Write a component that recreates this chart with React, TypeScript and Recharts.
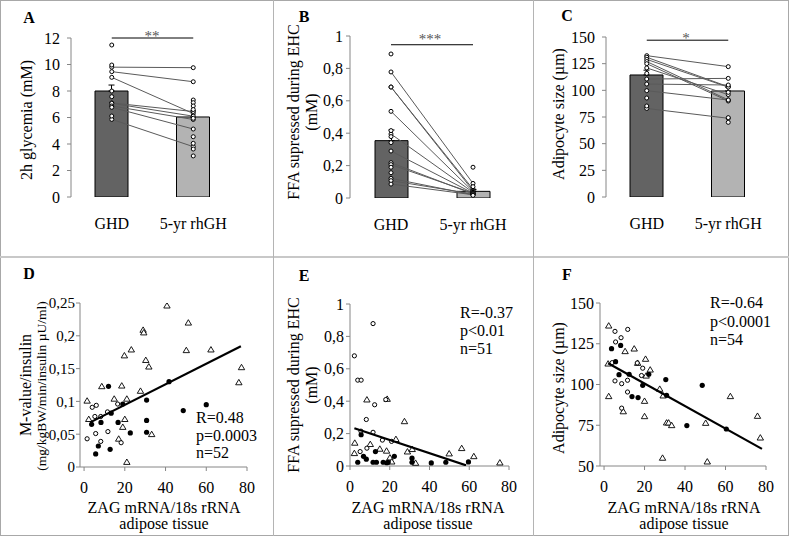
import React from "react";
import { Bar, Cell, ComposedChart, ErrorBar, Line, ReferenceLine, Scatter, ScatterChart, XAxis, YAxis } from "recharts";

const FONT = "'Liberation Serif', 'Times New Roman', serif";
const AXIS = "#868686";

// shared categories for the top row
const groups = ["GHD", "5-yr rhGH"];
const barFills = ["#636363", "#b3b3b3"];

// A: 2h glycemia (mM)
const aMeans = [8.0, 6.04];
const aErr = [0.45, 0.45];
const aPairs: [number, number][] = [[9.8, 9.76], [9.46, 8.7], [9.03, 6.3], [7.1, 6.45], [7.07, 6.1], [6.87, 5.85], [6.77, 5.13], [5.86, 3.8]];
const aGhdOnly = [11.47, 9.96, 8.0, 7.57, 6.11];
const aRhOnly = [7.32, 7.12, 6.87, 6.6, 5.94, 4.55, 4.05, 3.62, 3.1];

// B: FFA supressed during EHC (mM)
const bMeans = [0.354, 0.041];
const bErr = [0.066, 0.012];
const bPairs: [number, number][] = [[0.778, 0.09], [0.685, 0.055], [0.685, 0.045], [0.535, 0.04], [0.395, 0.035], [0.29, 0.03], [0.218, 0.025], [0.206, 0.03], [0.121, 0.02], [0.107, 0.025], [0.086, 0.02]];
const bGhdOnly = [0.889, 0.416, 0.379, 0.342, 0.19, 0.156];
const bRhOnly = [0.19, 0.07, 0.016];

// C: adipocyte size (µm)
const cMeans = [114.4, 99.4];
const cErr = [4.5, 3.6];
const cPairs: [number, number][] = [[132.5, 122.2], [131, 103.4], [129, 103], [127, 91], [125, 90], [121, 96], [110.6, 111.2], [105.9, 105], [99.7, 90.9], [83, 73.8]];
const cGhdOnly = [115.9, 92.8, 85.3];
const cRhOnly = [98.1, 74.4, 70];

// D: M-value/insulin vs ZAG mRNA
const dTriangles: [number, number][] = [[40.7, 0.246], [51.2, 0.22], [29, 0.209], [29.3, 0.205], [23.2, 0.179], [19.8, 0.17], [50.2, 0.178], [62.3, 0.179], [30.3, 0.163], [31.8, 0.153], [77.3, 0.152], [76, 0.129], [8.7, 0.123], [18.5, 0.124], [27.7, 0.116], [14.8, 0.104], [21, 0.104], [1.5, 0.101], [2.3, 0.073], [20, 0.073], [19, 0.061], [17, 0.043], [33.2, 0.05], [21, 0.0076]];
const dOpen: [number, number][] = [[4, 0.091], [6, 0.094], [5.3, 0.077], [8.2, 0.077], [11.5, 0.084], [16.5, 0.096], [1.5, 0.043], [5.7, 0.051], [11.7, 0.054], [8.2, 0.039], [18.2, 0.037]];
const dFilled: [number, number][] = [[12, 0.123], [41.7, 0.13], [19, 0.096], [13.3, 0.082], [30.7, 0.102], [60, 0.095], [48.7, 0.086], [3.7, 0.065], [8.3, 0.068], [16.7, 0.068], [30.7, 0.071], [30.7, 0.053], [22.7, 0.052], [7, 0.032], [12.8, 0.027], [5.7, 0.02]];
const dTrend: [number, number][] = [[3, 0.068], [77, 0.184]];

// E: FFA supressed vs ZAG mRNA
const eTriangles: [number, number][] = [[8.5, 0.41], [18.7, 0.414], [27.4, 0.276], [2.4, 0.143], [2.2, 0.079], [10.2, 0.135], [15, 0.106], [18.4, 0.094], [23.1, 0.166], [20.1, 0.052], [21, 0.027], [28.9, 0.089], [31.3, 0.104], [33, 0.019], [49.9, 0.077], [56.2, 0.11], [62.3, 0.06], [75.4, 0.021]];
const eOpen: [number, number][] = [[2.2, 0.68], [11.6, 0.879], [3.9, 0.53], [5.6, 0.53], [12.4, 0.378], [8.2, 0.287], [11.6, 0.208], [5.1, 0.089], [8.5, 0.11], [16.3, 0.16], [18, 0.41], [20.9, 0.152], [5.5, 0.215]];
const eFilled: [number, number][] = [[5.6, 0.193], [3.9, 0.023], [6.8, 0.06], [8.2, 0.042], [12.8, 0.089], [11.6, 0.023], [13.3, 0.023], [16.7, 0.023], [19.2, 0.023], [22.3, 0.06], [31.2, 0.048], [31.2, 0.023], [40.9, 0.019], [48.2, 0.023], [59.6, 0.025], [18.5, 0.02]];
const eTrend: [number, number][] = [[2.2, 0.233], [58.4, 0.004]];

// F: adipocyte size vs ZAG mRNA
const fTriangles: [number, number][] = [[2.3, 136.1], [2, 112.8], [2.3, 92.8], [10.4, 120.4], [14.9, 122], [20.5, 115.7], [16.6, 113.2], [22.8, 109.1], [20.8, 105.4], [27.5, 97.3], [29.2, 93.2], [20, 89.9], [9.5, 83.5], [20, 80.5], [30.9, 76.6], [31.9, 76.6], [33.4, 75], [50.2, 76.4], [62.4, 92.8], [75.8, 80.7], [77.2, 67.4], [28.9, 55], [51, 52.7]];
const fOpen: [number, number][] = [[5.4, 132.6], [11.7, 133.8], [5.7, 126.1], [8.4, 128.7], [4, 113.4], [16.4, 113.2], [19.1, 110], [5.4, 102.2], [8.7, 100.5], [11.6, 102.6], [11.6, 95.4], [8.7, 85.5], [18.5, 105.5]];
const fFilled: [number, number][] = [[3.7, 122], [8.2, 124], [5.7, 114], [7.4, 106], [12.4, 106.3], [22.1, 106.3], [30.5, 103], [19.1, 99.5], [30.9, 93.4], [13.8, 92.6], [16.8, 92], [48.5, 99.5], [40.9, 74.8], [60.4, 72.7]];
const fTrend: [number, number][] = [[2, 113], [78, 60.5]];

const zagTicks = [0, 20, 40, 60, 80];
const comma = (v: number) => String(v).replace(".", ",");
const tickStyle = { fontSize: 16, fill: "#000" };

type Margin = { top: number; right: number; bottom: number; left: number };

function Txt(props: { x: number; y: number; children: React.ReactNode; size?: number; bold?: boolean; rotate?: boolean; align?: "left" | "center"; color?: string }) {
  const { x, y, children, size = 16, bold, rotate, align = "center", color = "#000" } = props;
  const tx = align === "left" ? "0" : "-50%";
  return (
    <div
      style={{
        position: "absolute",
        left: x,
        top: y,
        fontSize: size,
        lineHeight: 1,
        fontWeight: bold ? "bold" : "normal",
        whiteSpace: "nowrap",
        color,
        transform: `translate(${tx}, -50%)${rotate ? " rotate(-90deg)" : ""}`,
        transformOrigin: "50% 50%",
      }}
    >
      {children}
    </div>
  );
}

function BarPanel(props: {
  left: number; top: number; width: number; height: number; margin: Margin;
  yDomain: [number, number]; yTicks: number[]; tickMargin: number;
  means: number[]; errs: number[]; pairs: [number, number][]; ghdOnly: number[]; rhOnly: number[]; sigY: number;
}) {
  const subjects: (number | null)[][] = [
    ...props.pairs,
    ...props.ghdOnly.map((v) => [v, null]),
    ...props.rhOnly.map((v) => [null, v]),
  ];
  const rows = groups.map((g, gi) => {
    const row: Record<string, any> = { cat: g, mean: props.means[gi], err: [0, props.errs[gi]] };
    subjects.forEach((s, si) => {
      row["s" + si] = s[gi];
    });
    return row;
  });
  return (
    <div style={{ position: "absolute", left: props.left, top: props.top }}>
      <ComposedChart width={props.width} height={props.height} data={rows} margin={props.margin}>
        <XAxis xAxisId="t" type="number" domain={[0, 2]} ticks={[0, 1, 2]} allowDataOverflow height={0} tick={false} tickSize={4} stroke={AXIS} />
        <XAxis dataKey="cat" type="category" allowDuplicatedCategory={false} height={40} axisLine={false} tickLine={false} tickSize={0} tickMargin={21} tick={tickStyle} />
        <YAxis type="number" domain={props.yDomain} ticks={props.yTicks} interval={0} width={60} stroke={AXIS} tickSize={4} tickMargin={props.tickMargin} tick={tickStyle} tickFormatter={comma} allowDataOverflow />
        <Bar dataKey="mean" barSize={33} stroke="#000" strokeWidth={1} isAnimationActive={false}>
          {rows.map((_, i) => (
            <Cell key={i} fill={barFills[i]} />
          ))}
          <ErrorBar dataKey="err" width={3} stroke="#000" strokeWidth={1} direction="y" />
        </Bar>
        {subjects.map((_, i) => (
          <Line
            key={i}
            dataKey={"s" + i}
            type="linear"
            stroke={i < props.pairs.length ? "#5a5a5a" : "none"}
            strokeWidth={1}
            dot={{ r: 2, stroke: "#000", strokeWidth: 1, fill: "#fff" }}
            activeDot={false}
            isAnimationActive={false}
            legendType="none"
          />
        ))}
        <ReferenceLine segment={[{ x: groups[0], y: props.sigY }, { x: groups[1], y: props.sigY }]} stroke="#000" strokeWidth={1} ifOverflow="visible" />
      </ComposedChart>
    </div>
  );
}

const OpenDot = (p: any) => <circle cx={p.cx} cy={p.cy} r={2.1} fill="#fff" stroke="#000" strokeWidth={1} />;
const FilledDot = (p: any) => <circle cx={p.cx} cy={p.cy} r={2.6} fill="#000" />;
const Tri = (p: any) => (
  <polygon points={`${p.cx},${p.cy - 3} ${p.cx - 3.2},${p.cy + 2.4} ${p.cx + 3.2},${p.cy + 2.4}`} fill="#fff" stroke="#000" strokeWidth={0.9} />
);
const NoDot = () => <g />;

const toXY = (arr: [number, number][]) => arr.map(([x, y]) => ({ x, y }));

function ScatterPanel(props: {
  left: number; top: number; width: number; height: number; margin: Margin;
  xDomain: [number, number]; yDomain: [number, number]; yTicks: number[]; tickMargin: number; tickFont?: number;
  tri: [number, number][]; open: [number, number][]; filled: [number, number][]; trend: [number, number][];
}) {
  const yTick = { ...tickStyle, fontSize: props.tickFont ?? 16 };
  return (
    <div style={{ position: "absolute", left: props.left, top: props.top }}>
      <ScatterChart width={props.width} height={props.height} margin={props.margin}>
        <XAxis type="number" dataKey="x" domain={props.xDomain} ticks={zagTicks} interval={0} allowDataOverflow height={30} stroke={AXIS} tickSize={4} tickMargin={11} tick={tickStyle} />
        <YAxis type="number" dataKey="y" domain={props.yDomain} ticks={props.yTicks} interval={0} allowDataOverflow width={60} stroke={AXIS} tickSize={4} tickMargin={props.tickMargin} tick={yTick} tickFormatter={comma} />
        <Scatter data={toXY(props.tri)} shape={Tri} isAnimationActive={false} />
        <Scatter data={toXY(props.open)} shape={OpenDot} isAnimationActive={false} />
        <Scatter data={toXY(props.filled)} shape={FilledDot} isAnimationActive={false} />
        <Scatter data={toXY(props.trend)} line={{ stroke: "#000", strokeWidth: 2.2 }} shape={NoDot} isAnimationActive={false} />
      </ScatterChart>
    </div>
  );
}

const line = (s: React.CSSProperties) => <div style={{ position: "absolute", background: "#b4b4b4", ...s }} />;

export default function App() {
  return (
    <div style={{ position: "absolute", left: 0, top: 0, width: 791, height: 551, background: "#fff", fontFamily: FONT, overflow: "hidden" }}>
      <style>{`.recharts-wrapper text, .recharts-surface text { font-family: 'Liberation Serif', 'Times New Roman', serif !important; }`}</style>
      {/* panel frames */}
      <div style={{ position: "absolute", left: 0, top: 0, width: 789, height: 536, border: "1px solid #a8a8a8", boxSizing: "border-box" }} />
      {line({ left: 0, top: 256, width: 789, height: 2, background: "#c8c8c8" })}
      {line({ left: 273, top: 0, width: 1, height: 536 })}
      {line({ left: 533, top: 0, width: 1, height: 536 })}

      <BarPanel left={0} top={0} width={262} height={257} margin={{ top: 38, right: 28, bottom: 20, left: 11 }}
        yDomain={[0, 12]} yTicks={[0, 2, 4, 6, 8, 10, 12]} tickMargin={7}
        means={aMeans} errs={aErr} pairs={aPairs} ghdOnly={aGhdOnly} rhOnly={aRhOnly} sigY={12} />
      <BarPanel left={274} top={0} width={260} height={257} margin={{ top: 36, right: 20, bottom: 19, left: 16 }}
        yDomain={[0, 1]} yTicks={[0, 0.2, 0.4, 0.6, 0.8, 1]} tickMargin={3}
        means={bMeans} errs={bErr} pairs={bPairs} ghdOnly={bGhdOnly} rhOnly={bRhOnly} sigY={0.946} />
      <BarPanel left={534} top={0} width={255} height={257} margin={{ top: 37, right: 20, bottom: 20, left: 12 }}
        yDomain={[0, 150]} yTicks={[0, 25, 50, 75, 100, 125, 150]} tickMargin={7}
        means={cMeans} errs={cErr} pairs={cPairs} ghdOnly={cGhdOnly} rhOnly={cRhOnly} sigY={147} />

      <ScatterPanel left={0} top={257} width={274} height={278} margin={{ top: 46, right: 27, bottom: 38, left: 20 }}
        xDomain={[-2, 80]} yDomain={[0, 0.25]} yTicks={[0, 0.05, 0.1, 0.15, 0.2, 0.25]} tickMargin={1} tickFont={15}
        tri={dTriangles} open={dOpen} filled={dFilled} trend={dTrend} />
      <ScatterPanel left={274} top={257} width={260} height={278} margin={{ top: 47, right: 25, bottom: 39, left: 16 }}
        xDomain={[0, 80]} yDomain={[0, 1]} yTicks={[0, 0.2, 0.4, 0.6, 0.8, 1]} tickMargin={2}
        tri={eTriangles} open={eOpen} filled={eFilled} trend={eTrend} />
      <ScatterPanel left={534} top={257} width={255} height={278} margin={{ top: 46, right: 23, bottom: 39, left: 6 }}
        xDomain={[-2, 80]} yDomain={[50, 150]} yTicks={[50, 75, 100, 125, 150]} tickMargin={2}
        tri={fTriangles} open={fOpen} filled={fFilled} trend={fTrend} />

      {/* panel letters */}
      <Txt x={29} y={18} bold>A</Txt>
      <Txt x={304} y={17} bold>B</Txt>
      <Txt x={567} y={16} bold>C</Txt>
      <Txt x={29} y={274} bold>D</Txt>
      <Txt x={304} y={276} bold>E</Txt>
      <Txt x={567} y={275} bold>F</Txt>

      {/* significance stars */}
      <Txt x={152} y={36} size={15} color="#555">**</Txt>
      <Txt x={430} y={39} size={15} color="#555">***</Txt>
      <Txt x={686} y={38} size={15} color="#555">*</Txt>

      {/* y axis titles */}
      <Txt x={27} y={120} rotate>2h glycemia (mM)</Txt>
      <Txt x={294} y={112} rotate>FFA supressed during EHC</Txt>
      <Txt x={312} y={112} rotate>(mM)</Txt>
      <Txt x={559} y={114} rotate>Adipocyte size (µm)</Txt>
      <Txt x={26} y={385} rotate>M-value/insulin</Txt>
      <Txt x={42} y={386} size={13.5} rotate>(mg/kgBW/min/insulin µU/ml)</Txt>
      <Txt x={294} y={385} rotate>FFA supressed during EHC</Txt>
      <Txt x={312} y={385} rotate>(mM)</Txt>
      <Txt x={559} y={388} rotate>Adipocyte size (µm)</Txt>

      {/* x axis titles */}
      <Txt x={164} y={508}>ZAG mRNA/18s rRNA</Txt>
      <Txt x={164} y={524}>adipose tissue</Txt>
      <Txt x={428} y={508}>ZAG mRNA/18s rRNA</Txt>
      <Txt x={428} y={524}>adipose tissue</Txt>
      <Txt x={684} y={508}>ZAG mRNA/18s rRNA</Txt>
      <Txt x={684} y={524}>adipose tissue</Txt>

      {/* correlation stats */}
      <Txt x={196} y={418} align="left">R=0.48</Txt>
      <Txt x={196} y={436} align="left">p=0.0003</Txt>
      <Txt x={196} y={453} align="left">n=52</Txt>
      <Txt x={460} y={313} align="left">R=-0.37</Txt>
      <Txt x={460} y={331} align="left">p&lt;0.01</Txt>
      <Txt x={460} y={349} align="left">n=51</Txt>
      <Txt x={710} y={303} align="left">R=-0.64</Txt>
      <Txt x={710} y={322} align="left">p&lt;0.0001</Txt>
      <Txt x={710} y={340} align="left">n=54</Txt>
    </div>
  );
}
